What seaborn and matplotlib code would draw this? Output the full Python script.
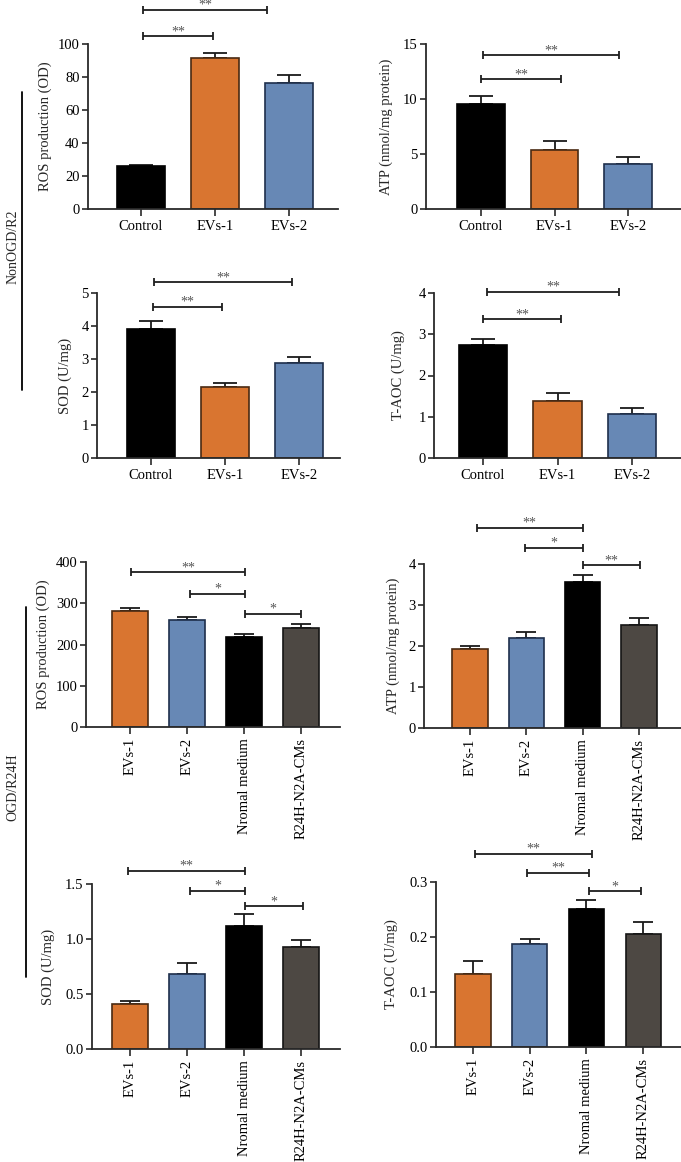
import numpy as np
import pandas as pd
import matplotlib
matplotlib.use("Agg")
import matplotlib.pyplot as plt
from matplotlib.lines import Line2D
from matplotlib.ticker import FormatStrFormatter
import seaborn as sns

# ---------------- data ----------------
groups_a = ["Control", "EVs-1", "EVs-2"]
groups_b = ["EVs-1", "EVs-2", "Nromal medium", "R24H-N2A-CMs"]

ros_a = [25.8, 91.5, 76.6]
ros_a_err = [1.1, 2.8, 4.4]
atp_a = [9.54, 5.32, 4.07]
atp_a_err = [0.70, 0.82, 0.70]
sod_a = [3.90, 2.14, 2.89]
sod_a_err = [0.24, 0.14, 0.16]
taoc_a = [2.73, 1.39, 1.07]
taoc_a_err = [0.15, 0.18, 0.14]

ros_b = [281.5, 260.0, 217.4, 239.0]
ros_b_err = [6.5, 7.0, 8.1, 10.0]
atp_b = [1.92, 2.20, 3.57, 2.52]
atp_b_err = [0.09, 0.14, 0.17, 0.16]
sod_b = [0.407, 0.683, 1.114, 0.926]
sod_b_err = [0.033, 0.097, 0.110, 0.067]
taoc_b = [0.133, 0.188, 0.251, 0.206]
taoc_b_err = [0.023, 0.009, 0.017, 0.022]

colors_a = ["#000000", "#D97530", "#6788B5"]
colors_b = ["#D97530", "#6788B5", "#000000", "#4D4843"]
edges_a = ["#000000", "#4A2A12", "#1E2F4C"]
edges_b = ["#4A2A12", "#1E2F4C", "#000000", "#151515"]

# significance brackets: (x start, x end, y, label)
sig_ros_a = [(0.03, 0.97, 104.6, "**"), (0.03, 1.70, 120.8, "**")]
sig_atp_a = [(0.0, 1.09, 11.8, "**"), (0.03, 1.88, 14.0, "**")]
sig_sod_a = [(0.03, 0.96, 4.59, "**"), (0.04, 1.91, 5.33, "**")]
sig_taoc_a = [(0.0, 1.05, 3.37, "**"), (0.05, 1.83, 4.03, "**")]
sig_ros_b = [(0.02, 2.02, 374.8, "**"), (1.05, 2.02, 323.0, "*"), (2.02, 3.0, 275.0, "*")]
sig_atp_b = [(0.12, 2.0, 4.89, "**"), (0.98, 2.0, 4.40, "*"), (2.0, 3.02, 3.97, "**")]
sig_sod_b = [(-0.04, 2.02, 1.62, "**"), (1.05, 2.02, 1.44, "*"), (2.02, 3.04, 1.30, "*")]
sig_taoc_b = [(0.03, 2.1, 0.351, "**"), (0.95, 2.05, 0.3165, "**"), (2.05, 2.96, 0.2836, "*")]

ylabel_ros = "ROS production (OD)"
ylabel_atp = "ATP (nmol/mg protein)"
ylabel_sod = "SOD (U/mg)"
ylabel_taoc = "T-AOC (U/mg)"

yticks_ros_a = [0, 20, 40, 60, 80, 100]
yticks_atp_a = [0, 5, 10, 15]
yticks_sod_a = [0, 1, 2, 3, 4, 5]
yticks_taoc_a = [0, 1, 2, 3, 4]
yticks_ros_b = [0, 100, 200, 300, 400]
yticks_atp_b = [0, 1, 2, 3, 4]
yticks_sod_b = [0.0, 0.5, 1.0, 1.5]
yticks_taoc_b = [0.0, 0.1, 0.2, 0.3]

# ---------------- style ----------------
sns.set_style("ticks")
plt.rcParams["font.family"] = ["Liberation Serif", "DejaVu Serif"]
plt.rcParams["axes.linewidth"] = 1.3
plt.rcParams["axes.edgecolor"] = "#2a2a2a"

W, H = 681, 1162
fig = plt.figure(figsize=(W / 100, H / 100), dpi=100)
fig.patch.set_facecolor("white")

# layout: left, right, top, bottom (px), first-bar px, bar spacing px, ylabel offset px
panels = [
    dict(cats=groups_a, vals=ros_a, errs=ros_a_err, cols=colors_a, edges=edges_a, sig=sig_ros_a,
         ylabel=ylabel_ros, yticks=yticks_ros_a, fmt=None,
         box=(88, 338, 44, 209), x0=141, sp=74, yoff=36, width=0.65, cap=8.3, rot=0),
    dict(cats=groups_a, vals=atp_a, errs=atp_a_err, cols=colors_a, edges=edges_a, sig=sig_atp_a,
         ylabel=ylabel_atp, yticks=yticks_atp_a, fmt=None,
         box=(426, 681, 44, 209), x0=481, sp=73.5, yoff=33, width=0.65, cap=8.3, rot=0),
    dict(cats=groups_a, vals=sod_a, errs=sod_a_err, cols=colors_a, edges=edges_a, sig=sig_sod_a,
         ylabel=ylabel_sod, yticks=yticks_sod_a, fmt=None,
         box=(97, 340, 293, 458), x0=151, sp=74, yoff=25, width=0.65, cap=8.3, rot=0),
    dict(cats=groups_a, vals=taoc_a, errs=taoc_a_err, cols=colors_a, edges=edges_a, sig=sig_taoc_a,
         ylabel=ylabel_taoc, yticks=yticks_taoc_a, fmt=None,
         box=(434, 681, 293, 458), x0=483, sp=74.5, yoff=29, width=0.65, cap=8.3, rot=0),
    dict(cats=groups_b, vals=ros_b, errs=ros_b_err, cols=colors_b, edges=edges_b, sig=sig_ros_b,
         ylabel=ylabel_ros, yticks=yticks_ros_b, fmt=None,
         box=(86, 340, 562, 727), x0=130, sp=57, yoff=36, width=0.62, cap=7.2, rot=90),
    dict(cats=groups_b, vals=atp_b, errs=atp_b_err, cols=colors_b, edges=edges_b, sig=sig_atp_b,
         ylabel=ylabel_atp, yticks=yticks_atp_b, fmt=None,
         box=(424, 681, 564, 728), x0=470, sp=56.3, yoff=24, width=0.63, cap=7.2, rot=90),
    dict(cats=groups_b, vals=sod_b, errs=sod_b_err, cols=colors_b, edges=edges_b, sig=sig_sod_b,
         ylabel=ylabel_sod, yticks=yticks_sod_b, fmt="%.1f",
         box=(92, 340, 884, 1049), x0=130, sp=57, yoff=37, width=0.62, cap=7.2, rot=90),
    dict(cats=groups_b, vals=taoc_b, errs=taoc_b_err, cols=colors_b, edges=edges_b, sig=sig_taoc_b,
         ylabel=ylabel_taoc, yticks=yticks_taoc_b, fmt="%.1f",
         box=(436, 681, 882, 1047), x0=473, sp=56.7, yoff=38, width=0.62, cap=7.2, rot=90),
]

for p in panels:
    l, r, t, b = p["box"]
    ax = fig.add_axes([l / W, 1 - b / H, (r - l) / W, (b - t) / H])
    df = pd.DataFrame({"group": p["cats"], "value": p["vals"]})
    sns.barplot(data=df, x="group", y="value", hue="group", palette=p["cols"],
                legend=False, errorbar=None, width=p["width"], saturation=1,
                ax=ax, zorder=2)
    for patch, ec in zip(ax.patches, p["edges"]):
        patch.set_edgecolor(ec)
        patch.set_linewidth(1.2)
    n = len(p["cats"])
    xs = np.arange(n)
    ax.errorbar(xs, p["vals"], yerr=[np.zeros(n), p["errs"]], fmt="none",
                ecolor="#1a1a1a", elinewidth=1.3, capsize=p["cap"], capthick=1.3, zorder=1)
    ax.set_xlim((l - p["x0"]) / p["sp"], (r - p["x0"]) / p["sp"])
    ax.set_ylim(0, p["yticks"][-1])
    ax.set_yticks(p["yticks"])
    if p["fmt"]:
        ax.yaxis.set_major_formatter(FormatStrFormatter(p["fmt"]))
    ax.set_xticks(xs)
    ax.set_xticklabels(p["cats"], rotation=p["rot"], fontsize=10.5)
    ax.tick_params(axis="y", labelsize=10.5, length=4, width=1.2, direction="out", pad=2, colors="#2a2a2a", labelcolor="black")
    ax.tick_params(axis="x", length=5, width=1.2, direction="out", pad=3, colors="#2a2a2a", labelcolor="black")
    ax.set_xlabel("")
    ax.set_ylabel(p["ylabel"], fontsize=10.5)
    ax.yaxis.set_label_coords(-p["yoff"] / (r - l), 0.5)
    sns.despine(ax=ax)
    ax.set_facecolor("white")
    for x1, x2, y, lab in p["sig"]:
        ax.plot([x1, x2], [y, y], color="#1e1e1e", lw=1.3, clip_on=False,
                marker="|", markersize=6, markeredgewidth=1.3, solid_capstyle="butt")
        ax.annotate(lab, xy=((x1 + x2) / 2, y), xytext=(0, -1.5), textcoords="offset points",
                    ha="center", va="bottom", fontsize=10, color="#555555",
                    annotation_clip=False)

# row labels with vertical lines
fig.text(13 / W, 1 - 247 / H, "NonOGD/R2", rotation=90, ha="center", va="center", fontsize=10)
fig.add_artist(Line2D([22 / W, 22 / W], [1 - 92 / H, 1 - 390 / H], transform=fig.transFigure,
                      color="black", lw=1.3))
fig.text(13 / W, 1 - 787 / H, "OGD/R24H", rotation=90, ha="center", va="center", fontsize=10)
fig.add_artist(Line2D([26 / W, 26 / W], [1 - 607 / H, 1 - 977 / H], transform=fig.transFigure,
                      color="black", lw=1.3))

fig.savefig("out.png", dpi=100, facecolor="white")
